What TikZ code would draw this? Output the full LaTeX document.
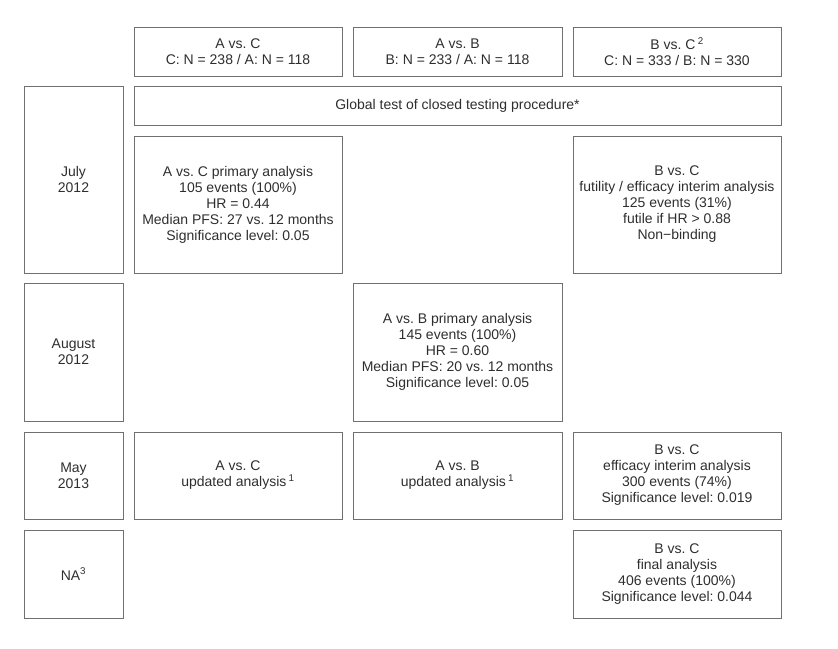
\documentclass[tikz,border=0pt]{standalone}
\usepackage{fontspec}
\setmainfont{Liberation Sans}
\usepackage{tikz}
\usetikzlibrary{positioning}
\definecolor{framegray}{HTML}{707070}
\definecolor{textgray}{HTML}{2E2E2E}
\frenchspacing
\begin{document}
\begin{tikzpicture}[x=1pt,y=-1pt,font=\fontsize{14}{16}\selectfont]
\tikzstyle{cell}=[draw=framegray,line width=0.9pt,text=textgray,align=center,inner sep=0pt]
\tikzstyle{datecell}=[cell,minimum width=99pt]
\tikzstyle{wide}=[cell,minimum width=208pt]
\useasboundingbox (0,0) rectangle (838,648);
% header row
\node[wide,minimum height=49pt] (hAC) at (238,51.5) {A vs. C\\C: N = 238 / A: N = 118};
\node[wide,minimum width=209pt,minimum height=49pt] (hAB) at (457.5,51.5) {A vs. B\\B: N = 233 / A: N = 118};
\node[wide,minimum height=49pt] (hBC) at (677,51.5) {B vs. C\,\textsuperscript{2}\\C: N = 333 / B: N = 330};
% date column
\node[datecell,minimum height=187pt] (july) at (73.5,179.5) {July\\2012};
\node[datecell,minimum height=138pt] (aug) at (73.5,352) {August\\2012};
\node[datecell,minimum height=87pt] (may) at (73.5,475.5) {May\\2013};
\node[datecell,minimum height=88pt] (na) at (73.5,574) {NA\textsuperscript{3}};
% global test
\node[cell,minimum width=647pt,minimum height=39pt] (glob) at (457.5,105.5) {Global test of closed testing procedure*};
% July 2012
\node[wide,minimum height=137pt] (pAC) at (238,204.5) {A vs. C primary analysis\\105 events (100\%)\\HR = 0.44\\Median PFS: 27 vs. 12 months\\Significance level: 0.05};
\node[wide,minimum height=137pt] (iBC) at (677,204.5) {B vs. C\\futility / efficacy interim analysis\\125 events (31\%)\\futile if HR > 0.88\\Non−binding};
% August 2012
\node[wide,minimum width=209pt,minimum height=138pt] (pAB) at (457.5,352) {A vs. B primary analysis\\145 events (100\%)\\HR = 0.60\\Median PFS: 20 vs. 12 months\\Significance level: 0.05};
% May 2013
\node[wide,minimum height=87pt] (uAC) at (238,475.5) {A vs. C\\updated analysis\,\textsuperscript{1}};
\node[wide,minimum width=209pt,minimum height=87pt] (uAB) at (457.5,475.5) {A vs. B\\updated analysis\,\textsuperscript{1}};
\node[wide,minimum height=87pt] (eBC) at (677,475.5) {B vs. C\\efficacy interim analysis\\300 events (74\%)\\Significance level: 0.019};
% NA
\node[wide,minimum height=88pt] (fBC) at (677,574) {B vs. C\\final analysis\\406 events (100\%)\\Significance level: 0.044};
\end{tikzpicture}
\end{document}
